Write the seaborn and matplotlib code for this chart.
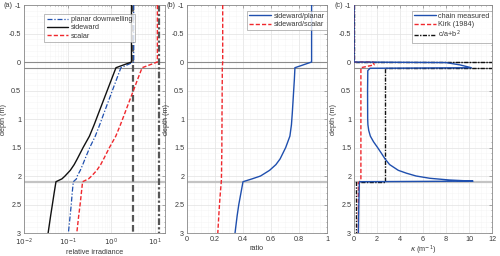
import matplotlib
matplotlib.use("Agg")
import matplotlib.pyplot as plt
import seaborn as sns
import pandas as pd
import numpy as np
from matplotlib.ticker import MultipleLocator, LogLocator, NullFormatter

sns.set_theme(style="white")
plt.rcParams['font.family'] = ['Liberation Sans', 'DejaVu Sans']
plt.rcParams['mathtext.fontset'] = 'dejavusans'

# ---------------- data ----------------
depth = [-1, 0, 0.1, 0.3, 0.5, 0.7, 0.9, 1.1, 1.3, 1.5, 1.7, 1.8, 1.9, 2.0, 2.05, 2.1, 2.3, 2.5, 2.7, 3.0]
planar = [3.26, 3.26, 1.66, 1.325, 1.059, 0.847, 0.677, 0.543, 0.430, 0.321, 0.250, 0.222, 0.195, 0.166,
          0.159, 0.135, 0.127, 0.121, 0.114, 0.104]
sideward = [2.9, 2.9, 1.28, 1.016, 0.807, 0.641, 0.509, 0.405, 0.316, 0.226, 0.166, 0.141, 0.115, 0.087,
            0.074, 0.054, 0.049, 0.0447, 0.0407, 0.0357]
scalar = [11.37, 11.37, 5.08, 4.03, 3.215, 2.554, 2.036, 1.62, 1.269, 0.908, 0.669, 0.571, 0.466, 0.354,
          0.301, 0.220, 0.206, 0.193, 0.179, 0.162]
ratio_planar = [0.89, 0.89, 0.771, 0.767, 0.762, 0.757, 0.752, 0.746, 0.735, 0.705, 0.665, 0.635, 0.59,
                0.525, 0.465, 0.40, 0.385, 0.37, 0.358, 0.343]
ratio_scalar = [0.255, 0.255, 0.252, 0.252, 0.251, 0.251, 0.250, 0.250, 0.249, 0.249, 0.248, 0.247, 0.247,
                0.246, 0.246, 0.245, 0.238, 0.232, 0.227, 0.22]
ref_depth = [-1, 3]
ref_pi = [3.1416, 3.1416]
ref_4pi = [12.566, 12.566]

chain_depth = [-1, 0, 0.01, 0.05, 0.1, 0.11, 0.15, 0.5, 1.0, 1.1, 1.2, 1.3, 1.4, 1.5, 1.6, 1.7, 1.8,
               1.9, 1.95, 2.0, 2.04, 2.07, 2.09, 2.1, 2.13, 2.5, 3.0]
chain_kappa = [0, 0, 8.0, 9.2, 10.2, 1.4, 1.2, 1.18, 1.19, 1.21, 1.28, 1.42, 1.7, 2.05, 2.38, 2.7, 3.1,
               3.85, 4.55, 5.4, 6.6, 8.3, 10.35, 0.5, 0.46, 0.42, 0.38]
kirk_depth = [-1, 0, 0, 0.05, 0.1, 1.0, 2.08, 2.12, 3.0]
kirk_kappa = [0, 0, 1.65, 1.75, 0.6, 0.6, 0.6, 0.38, 0.38]
beam_depth = [-1, 0, 0, 0.1, 0.1, 2.1, 2.1, 3.0]
beam_kappa = [0, 0, 14, 14, 2.7, 2.7, 0.2, 0.2]

BLUE = '#1f4fae'
RED = '#f0282d'
BLACK = '#111111'
GRAYREF = '#555555'
FS = 5.2
TXT = '#3a3a3a'

fig = plt.figure(figsize=(5.0, 2.56), dpi=100)
axA = fig.add_axes([0.048, 0.0898, 0.282, 0.8906])
axB = fig.add_axes([0.374, 0.0898, 0.280, 0.8906])
axC = fig.add_axes([0.708, 0.0898, 0.276, 0.8906])


def vline(ax, x, y, color, ls, lw, z=3):
    df = pd.DataFrame({'x': x, 'y': y})
    sns.lineplot(data=df, x='x', y='y', ax=ax, orient='y', sort=False, estimator=None,
                 color=color, linestyle=ls, linewidth=lw, zorder=z, legend=False)


def style(ax, letter, xpad=2):
    ax.set_ylim(3, -1)
    ax.yaxis.set_minor_locator(MultipleLocator(0.1))
    ax.set_yticks([-1, -0.5, 0, 0.5, 1, 1.5, 2, 2.5, 3])
    ax.set_yticklabels(['-1', '-0.5', '0', '0.5', '1', '1.5', '2', '2.5', '3'])
    ax.grid(True, which='major', color='#e2e2e2', lw=0.5)
    ax.grid(True, which='minor', color='#eeeeee', lw=0.4, ls=(0, (1, 1)))
    ax.set_axisbelow(True)
    for s in ax.spines.values():
        s.set_color('#8a8a8a')
        s.set_linewidth(0.6)
        s.set_visible(True)
    ax.tick_params(which='both', direction='in', top=True, right=True, colors='#8a8a8a',
                   labelcolor=TXT, labelsize=FS, length=2, width=0.5, pad=2)
    ax.tick_params(which='minor', length=1)
    ax.tick_params(axis='x', pad=xpad)
    ax.set_ylabel('depth (m)', fontsize=FS, color=TXT, labelpad=1)
    ax.text(-0.08, 1.0, letter, transform=ax.transAxes,
            fontsize=FS, color=TXT, ha='right', va='center')
    for d, c, lw in [(0, '#8c8c8c', 0.8), (0.1, '#8c8c8c', 0.8), (2.1, '#c4c4c4', 1.6)]:
        ax.axhline(d, color=c, lw=lw, zorder=2)


def legend(ax, handles, labels, **kw):
    leg = ax.legend(handles, labels, fontsize=FS, frameon=True, fancybox=False,
                    edgecolor='#8a8a8a', handlelength=3.0, borderpad=0.3, labelspacing=0.15,
                    handletextpad=0.4, borderaxespad=0, **kw)
    leg.get_frame().set_linewidth(0.5)
    for t in leg.get_texts():
        t.set_color(TXT)


# ---------------- panel (a) ----------------
vline(axA, ref_pi, ref_depth, GRAYREF, (0, (3, 1.5)), 1.6, z=2.5)
vline(axA, ref_4pi, ref_depth, GRAYREF, (0, (3, 1, 1, 1)), 1.6, z=2.5)
vline(axA, planar, depth, BLUE, (0, (4, 1.5, 1, 1.5)), 0.9)
vline(axA, sideward, depth, BLACK, '-', 1.0)
vline(axA, scalar, depth, RED, (0, (3, 1.5)), 1.0)
axA.set_xscale('log')
axA.set_xlim(1e-2, 17)
axA.set_xticks([1e-2, 1e-1, 1e0, 1e1])
axA.set_xticklabels([r'$10^{-2}$', r'$10^{-1}$', r'$10^{0}$', r'$10^{1}$'])
axA.xaxis.set_minor_locator(LogLocator(base=10, subs=np.arange(2, 10)))
axA.xaxis.set_minor_formatter(NullFormatter())
style(axA, '(a)', xpad=3)
axA.set_xlabel('relative irradiance', fontsize=FS, color=TXT, labelpad=0.5)
hA = [plt.Line2D([], [], color=BLUE, ls=(0, (4, 1.5, 1, 1.5)), lw=0.9),
      plt.Line2D([], [], color=BLACK, ls='-', lw=1.0),
      plt.Line2D([], [], color=RED, ls=(0, (3, 1.5)), lw=1.0)]
legend(axA, hA, ['planar downwelling', 'sideward', 'scalar'], loc='upper left',
       bbox_to_anchor=(0.145, 0.96))

# ---------------- panel (b) ----------------
vline(axB, ratio_planar, depth, BLUE, '-', 1.0)
vline(axB, ratio_scalar, depth, RED, (0, (3, 1.5)), 1.0)
axB.set_xlim(0, 1)
axB.xaxis.set_minor_locator(MultipleLocator(0.05))
style(axB, '(b)')
axB.set_xticks([0, 0.2, 0.4, 0.6, 0.8, 1])
axB.set_xticklabels(['0', '0.2', '0.4', '0.6', '0.8', '1'])
axB.set_xlabel('ratio', fontsize=FS, color=TXT, labelpad=1.5)
hB = [plt.Line2D([], [], color=BLUE, ls='-', lw=1.0),
      plt.Line2D([], [], color=RED, ls=(0, (3, 1.5)), lw=1.0)]
legend(axB, hB, ['sideward/planar', 'sideward/scalar'], loc='upper right',
       bbox_to_anchor=(1.0, 0.975))

# ---------------- panel (c) ----------------
vline(axC, chain_kappa, chain_depth, BLUE, '-', 1.0, z=3.2)
vline(axC, kirk_kappa, kirk_depth, RED, (0, (3, 1.5)), 1.0, z=3.1)
vline(axC, beam_kappa, beam_depth, BLACK, (0, (3, 1, 1, 1)), 1.0, z=3.0)
axC.set_xlim(0, 12)
axC.xaxis.set_minor_locator(MultipleLocator(0.5))
style(axC, '(c)')
axC.set_xticks([0, 2, 4, 6, 8, 10, 12])
axC.set_xticklabels(['0', '2', '4', '6', '8', '10', '12'])
axC.set_xlabel(r'$\kappa$ (m$^{-1}$)', fontsize=FS, color=TXT, labelpad=0.5)
hC = [plt.Line2D([], [], color=BLUE, ls='-', lw=1.0),
      plt.Line2D([], [], color=RED, ls=(0, (3, 1.5)), lw=1.0),
      plt.Line2D([], [], color=BLACK, ls=(0, (3, 1, 1, 1)), lw=1.0)]
legend(axC, hC, ['chain measured', 'Kirk (1984)', r'c/a+b$^{2}$'], loc='upper right',
       bbox_to_anchor=(1.0, 0.975))

fig.savefig('out.png', dpi=100)
